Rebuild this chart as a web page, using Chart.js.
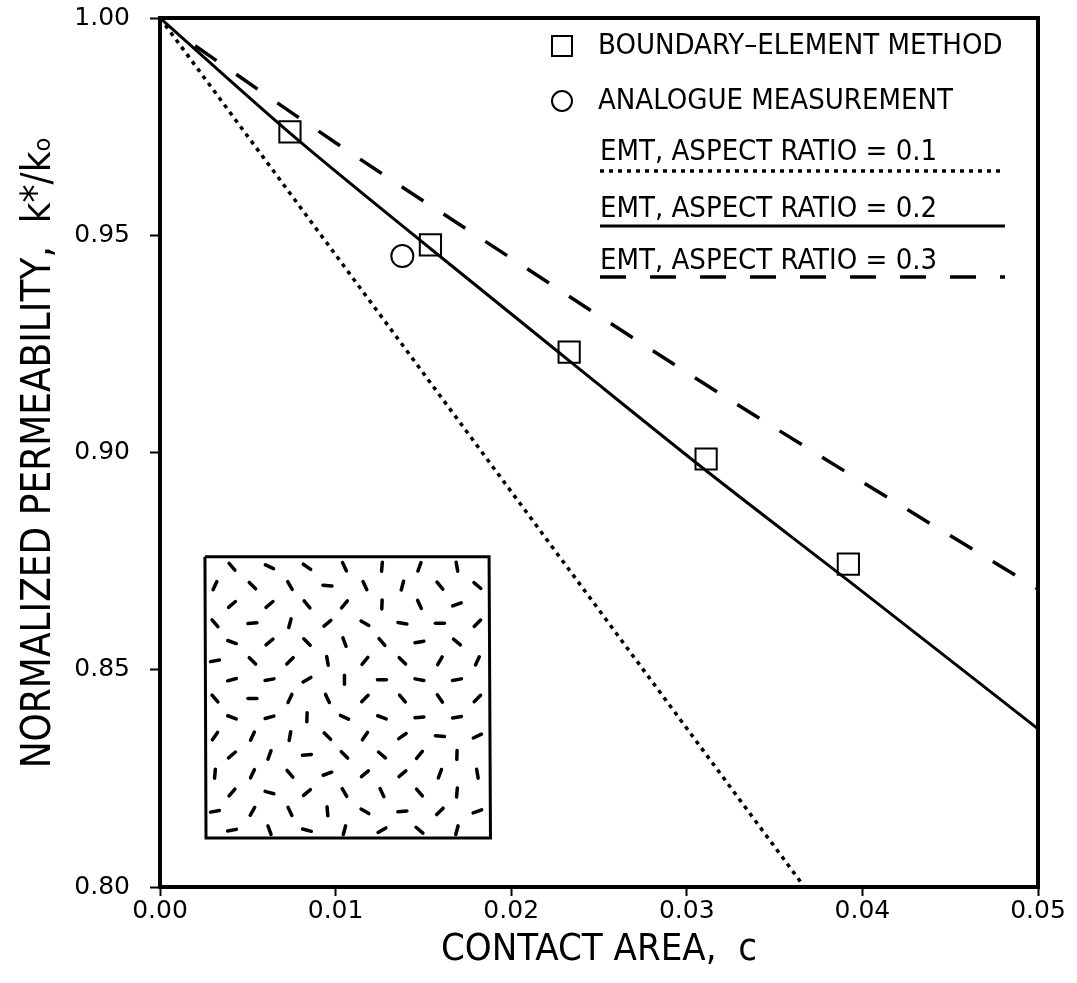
<!DOCTYPE html>
<html>
<head>
<meta charset="utf-8">
<script src="https://cdn.jsdelivr.net/npm/chart.js@4.4.1/dist/chart.umd.min.js"></script>
<style>
  html, body { margin: 0; padding: 0; background: #fff; }
</style>
</head>
<body>
<canvas id="chart" width="1077" height="983"></canvas>
<script>
// boundary-element method (squares)
const bemX = [0.0074, 0.0154, 0.0233, 0.0311, 0.0392];
const bemY = [0.9738, 0.9478, 0.9231, 0.8985, 0.8743];
// analogue measurement (circle)
const anaX = [0.0138];
const anaY = [0.9452];
// EMT curves, aspect ratio 0.1 / 0.2 / 0.3
const emt1X = [0, 0.01, 0.02, 0.03, 0.0367];
const emt1Y = [1.0, 0.9455, 0.891, 0.8365, 0.80];
const emt2X = [0, 0.0074, 0.0155, 0.0234, 0.0312, 0.0392, 0.05];
const emt2Y = [1.0, 0.9735, 0.9466, 0.9208, 0.8955, 0.8705, 0.8364];
const emt3X = [0.002, 0.01, 0.02, 0.03, 0.04, 0.05];
const emt3Y = [0.9936, 0.9713, 0.9447, 0.9184, 0.8932, 0.8686];

const xTicks = [0, 0.01, 0.02, 0.03, 0.04, 0.05];
const yTicks = [0.80, 0.85, 0.90, 0.95, 1.00];

const legendLabels = ["BOUNDARY\u2013ELEMENT METHOD", "ANALOGUE MEASUREMENT",
    "EMT, ASPECT RATIO = 0.1", "EMT, ASPECT RATIO = 0.2", "EMT, ASPECT RATIO = 0.3"];

// inset sketch: box corners and crack orientations (deg, + = rising to the right)
const insetBoxX = [0.00256, 0.01874, 0.01882, 0.00262, 0.00256];
const insetBoxY = [0.8760, 0.8760, 0.8113, 0.8113, 0.8760];
const insetAngles = [
    [-50, -25, -35, -65, 85, 70, -80],
    [65, -45, -60, -5, -65, 75, -50, -40],
    [40, 40, -50, 50, 88, -65, 20],
    [-50, 5, 75, 40, -30, -10, 0, 45],
    [-20, 40, -45, -70, -50, 10, -40],
    [10, -45, 45, -80, 50, -45, 60, 65],
    [15, 10, 30, 90, 0, -10, 10],
    [-50, 0, 65, -65, 45, -50, -55, 45],
    [-20, 15, 88, -25, -20, 5, 10],
    [55, 65, 80, -45, 55, 35, -5, 25],
    [40, 70, 5, -45, -40, 50, 88],
    [85, 65, -50, 20, 40, 40, 70, -80],
    [50, -15, 40, -60, -65, -50, 85],
    [10, 60, -65, -85, -30, 5, 45, 20],
    [10, -70, -15, 75, 30, -40, 75]
];

function xy(xs, ys){
    return xs.map((x, i) => ({x: x, y: ys[i]}));
}

// crack lattice inside the inset (staggered rows)
let cracks = [];
let crackRot = [];
insetAngles.forEach((row, i) => {
    let x0 = row.length === 7 ? 0.0041 : 0.00313;
    row.forEach((a, j) => {
        cracks.push({x: x0 + j * 0.002135, y: 0.8737 - i * 0.00433});
        crackRot.push(-a);
    });
});

const narrow = '"Liberation Sans Narrow", "DejaVu Sans Condensed", "Liberation Sans", sans-serif';

const framePlugin = {
    id: "frame",
    beforeDatasetDraw(chart, args){
        if (args.index === 6) chart.ctx.lineCap = "round";
    },
    afterDatasetDraw(chart, args){
        if (args.index === 6) chart.ctx.lineCap = "butt";
    },
    afterDatasetsDraw(chart){
        const {ctx, chartArea} = chart;
        ctx.save();
        ctx.strokeStyle = "#000";
        ctx.lineWidth = 4;
        ctx.strokeRect(chartArea.left, chartArea.top,
            chartArea.right - chartArea.left, chartArea.bottom - chartArea.top);
        ctx.restore();
    }
};

const legendPlugin = {
    id: "keybox",
    afterDraw(chart){
        const ctx = chart.ctx;
        const ds = chart.data.datasets;
        ctx.save();
        ctx.fillStyle = "#000";
        ctx.strokeStyle = "#000";
        ctx.font = "29px " + narrow;
        ctx.textBaseline = "middle";
        // markers
        ctx.lineWidth = 2;
        ctx.strokeRect(552, 36, 20, 20);
        ctx.beginPath();
        ctx.arc(562, 101, 10, 0, Math.PI * 2);
        ctx.stroke();
        ctx.fillText(legendLabels[0], 598, 46);
        ctx.fillText(legendLabels[1], 598, 101);
        const rows = [[152, 171, 2], [209, 226, 3], [261, 277, 4]];
        rows.forEach(r => {
            ctx.fillText(legendLabels[r[2]], 600, r[0]);
            const d = ds[r[2]];
            ctx.beginPath();
            ctx.lineWidth = d.borderWidth;
            ctx.setLineDash(d.borderDash || []);
            ctx.moveTo(600, r[1]);
            ctx.lineTo(1005, r[1]);
            ctx.stroke();
        });
        ctx.restore();
    }
};

const ctx = document.getElementById("chart");
new Chart(ctx, {
    type: "scatter",
    data: {
        datasets: [{
            label: "BEM",
            data: xy(bemX, bemY),
            pointStyle: "rect",
            pointRadius: 15,
            borderColor: "#000",
            backgroundColor: "rgba(0,0,0,0)",
            pointBorderWidth: 2
        }, {
            label: "Analogue",
            data: xy(anaX, anaY),
            pointStyle: "circle",
            pointRadius: 11,
            borderColor: "#000",
            backgroundColor: "rgba(0,0,0,0)",
            pointBorderWidth: 2
        }, {
            label: "EMT 0.1",
            type: "line",
            data: xy(emt1X, emt1Y),
            borderColor: "#000",
            borderWidth: 3.5,
            borderDash: [4, 5],
            pointRadius: 0,
            fill: false
        }, {
            label: "EMT 0.2",
            type: "line",
            data: xy(emt2X, emt2Y),
            borderColor: "#000",
            borderWidth: 3,
            pointRadius: 0,
            cubicInterpolationMode: "monotone",
            fill: false
        }, {
            label: "EMT 0.3",
            type: "line",
            data: xy(emt3X, emt3Y),
            borderColor: "#000",
            borderWidth: 3.5,
            borderDash: [26, 24],
            pointRadius: 0,
            cubicInterpolationMode: "monotone",
            fill: false
        }, {
            label: "inset box",
            type: "line",
            data: xy(insetBoxX, insetBoxY),
            borderColor: "#000",
            borderWidth: 3,
            pointRadius: 0,
            fill: false
        }, {
            label: "cracks",
            data: cracks,
            pointStyle: "line",
            pointRadius: 4.5,
            pointRotation: crackRot,
            borderColor: "#000",
            pointBorderWidth: 3.5
        }]
    },
    options: {
        responsive: false,
        animation: false,
        events: [],
        layout: {padding: {left: 0, top: 18, right: 39, bottom: 0}},
        plugins: {legend: {display: false}, tooltip: {enabled: false}},
        scales: {
            x: {
                type: "linear",
                min: 0,
                max: 0.05,
                afterFit: s => { s.height = 96; s.paddingLeft = 0; s.paddingRight = 0; },
                afterBuildTicks: s => { s.ticks = xTicks.map(v => ({value: v})); },
                ticks: {
                    callback: v => v.toFixed(2),
                    font: {family: "DejaVu Sans", size: 25},
                    color: "#000",
                    padding: 0,
                    maxRotation: 0
                },
                grid: {drawOnChartArea: false, drawTicks: true, tickLength: 9, tickWidth: 2, tickColor: "#000"},
                border: {display: false},
                title: {
                    display: true,
                    text: "CONTACT AREA,  c",
                    font: {family: narrow, size: 38},
                    color: "#000",
                    padding: {top: 0, bottom: 10}
                }
            },
            y: {
                type: "linear",
                min: 0.8,
                max: 1.0,
                afterFit: s => { s.width = 160; s.paddingTop = 0; s.paddingBottom = 0; },
                afterBuildTicks: s => { s.ticks = yTicks.map(v => ({value: v})); },
                ticks: {
                    callback: v => v.toFixed(2),
                    font: {family: "DejaVu Sans", size: 25},
                    color: "#000",
                    padding: 20
                },
                grid: {drawOnChartArea: false, drawTicks: true, tickLength: 10, tickWidth: 2, tickColor: "#000"},
                border: {display: false},
                title: {
                    display: true,
                    text: "NORMALIZED PERMEABILITY,  k*/k\u2092",
                    font: {family: narrow, size: 40},
                    color: "#000",
                    padding: {top: 16, bottom: 0}
                }
            }
        }
    },
    plugins: [framePlugin, legendPlugin]
});
</script>
</body>
</html>
